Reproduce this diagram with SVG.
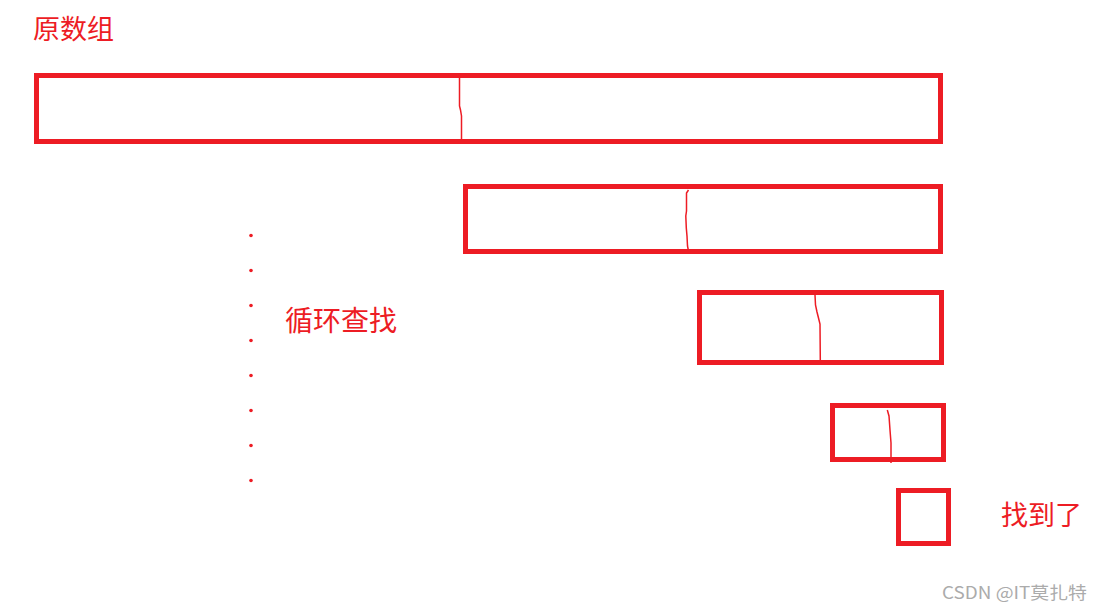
<svg xmlns="http://www.w3.org/2000/svg" width="1103" height="612" viewBox="0 0 1103 612">
<style>
.box{fill:none;stroke:#ED1C24;stroke-width:5}
.div{fill:none;stroke:#ED1C24;stroke-width:1.5}
.lbl{font-family:"Noto Sans CJK SC","Noto Sans",sans-serif;fill:#ED1C24}
.dot{fill:#ED1C24}
.wm{font-family:"Noto Sans CJK SC","Noto Sans",sans-serif;fill:#ababab;font-size:17px}
</style>
<rect width="1103" height="612" fill="#fff"/>
<g id="title"><text class="lbl" x="33" y="39" font-size="27">原数组</text></g>
<g id="array1"><rect class="box" x="36.5" y="75.5" width="904" height="66"/></g>
<g id="array2"><rect class="box" x="465.5" y="186.5" width="475" height="65"/></g>
<g id="array3"><rect class="box" x="699.5" y="292.5" width="242" height="70"/></g>
<g id="array4"><rect class="box" x="832.5" y="405.5" width="111" height="54"/></g>
<g id="array5"><rect class="box" x="898.5" y="490.5" width="50" height="53"/></g>
<g id="connectors">
<path class="div" d="M459.5 78 L459.5 106 L460.5 110 L461.5 116 L461.5 139"/>
<path class="div" d="M688.5 190 L686.5 193 L686.5 211 L685.8 216 L686.3 228 L687 236 L687.5 246 L688.3 250"/>
<path class="div" d="M815 295 L815.5 305 L817 312 L818.5 318 L820 324 L820.3 360"/>
<path class="div" d="M887.3 410 L889 416 L890 430 L891 443 L891 463"/>
</g>
<g id="dots">
<circle class="dot" cx="251" cy="235.5" r="1.8"/>
<circle class="dot" cx="251" cy="270.5" r="1.8"/>
<circle class="dot" cx="251" cy="305.5" r="1.8"/>
<circle class="dot" cx="251" cy="340.5" r="1.8"/>
<circle class="dot" cx="251" cy="375.5" r="1.8"/>
<circle class="dot" cx="251" cy="410.5" r="1.8"/>
<circle class="dot" cx="251" cy="445.5" r="1.8"/>
<circle class="dot" cx="251" cy="480.5" r="1.8"/>
</g>
<g id="loop"><text class="lbl" x="285" y="331" font-size="28">循环查找</text></g>
<g id="found"><text class="lbl" x="1001" y="525" font-size="27">找到了</text></g>
<text class="wm" x="942" y="599" textLength="145" lengthAdjust="spacingAndGlyphs">CSDN @IT莫扎特</text>
</svg>
